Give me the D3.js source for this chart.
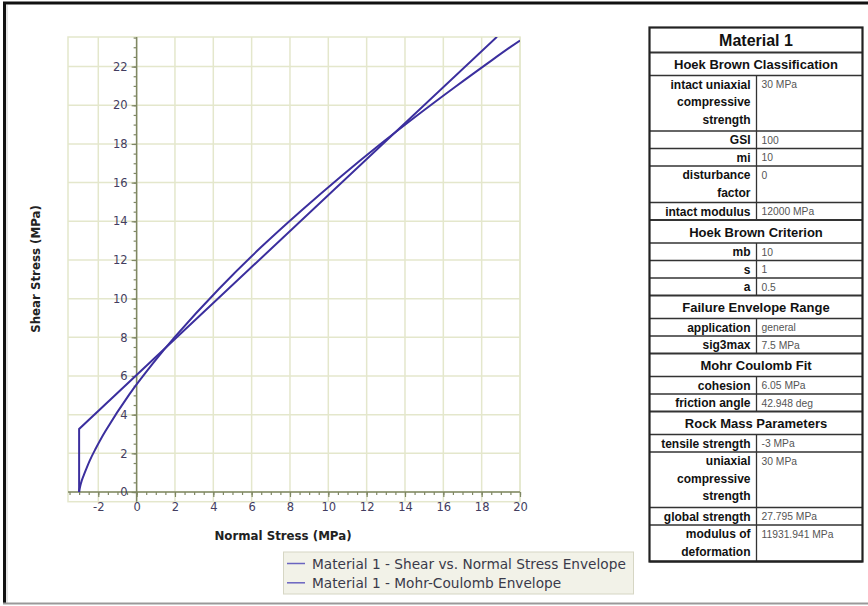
<!DOCTYPE html>
<html><head><meta charset="utf-8">
<script src="https://cdn.jsdelivr.net/npm/d3@7"></script>
<style>
html,body{margin:0;padding:0;background:#fff;}
svg{display:block;}
</style></head>
<body>
<svg id="chart" width="868" height="606"></svg>
<script>
// ---------- DATA ----------
const xTicks = [-2, 0, 2, 4, 6, 8, 10, 12, 14, 16, 18, 20];
const yTicks = [0, 2, 4, 6, 8, 10, 12, 14, 16, 18, 20, 22];
const xTitle = "Normal Stress (MPa)";
const yTitle = "Shear Stress (MPa)";
const seriesNames = ["Material 1 - Shear vs. Normal Stress Envelope", "Material 1 - Mohr-Coulomb Envelope"];
// Hoek-Brown envelope (normal stress, shear stress)
const hbNormal = [-3, -2.97, -2.86, -2.71, -2.44, -2.17, -1.64, -0.38, 0.84, 2.02, 4.29, 6.47, 8.60, 10.66, 12.69, 14.68, 16.63, 18.56, 19.51, 20.0];
const hbShear  = [0, 0.18, 0.60, 0.99, 1.64, 2.18, 3.13, 5.05, 6.64, 8.05, 10.50, 12.64, 14.56, 16.32, 17.97, 19.51, 20.96, 22.35, 23.02, 23.35];
// Mohr-Coulomb envelope with tension cut-off
const mcNormal = [-3, -3, 18.8];
const mcShear  = [0, 3.26, 23.54];

// Table
const tableTitle = "Material 1";
const sectionTitles = ["Hoek Brown Classification", "Hoek Brown Criterion", "Failure Envelope Range", "Mohr Coulomb Fit", "Rock Mass Parameters"];
const sec1Labels = [["intact uniaxial", "compressive", "strength"], ["GSI"], ["mi"], ["disturbance", "factor"], ["intact modulus"]];
const sec1Values = ["30 MPa", "100", "10", "0", "12000 MPa"];
const sec2Labels = [["mb"], ["s"], ["a"]];
const sec2Values = ["10", "1", "0.5"];
const sec3Labels = [["application"], ["sig3max"]];
const sec3Values = ["general", "7.5 MPa"];
const sec4Labels = [["cohesion"], ["friction angle"]];
const sec4Values = ["6.05 MPa", "42.948 deg"];
const sec5Labels = [["tensile strength"], ["uniaxial", "compressive", "strength"], ["global strength"], ["modulus of", "deformation"]];
const sec5Values = ["-3 MPa", "30 MPa", "27.795 MPa", "11931.941 MPa"];

// ---------- DRAW ----------
const svg = d3.select("#chart");
const curveColor = "#3b2f9e";
const gridColor = "#e4e7cc";
const axisColor = "#7f8763";
const tickTextColor = "#433d60";

// frame
svg.append("line").attr("x1", 3).attr("x2", 868).attr("y1", 3).attr("y2", 3).attr("stroke", "#111").attr("stroke-width", 3);
svg.append("line").attr("x1", 4.5).attr("x2", 4.5).attr("y1", 2).attr("y2", 604).attr("stroke", "#111").attr("stroke-width", 3);
svg.append("line").attr("x1", 7).attr("x2", 7).attr("y1", 5).attr("y2", 603).attr("stroke", "#ddd").attr("stroke-width", 1.5);
svg.append("line").attr("x1", 3).attr("x2", 868).attr("y1", 603.5).attr("y2", 603.5).attr("stroke", "#999").attr("stroke-width", 2);

const plot = {left: 68, right: 520, top: 37, bottom: 501.7};
const x = d3.scaleLinear().domain([-3.58, 20]).range([plot.left, plot.right]);
const y = d3.scaleLinear().domain([-0.5, 23.53]).range([plot.bottom, plot.top]);

// grid
const g = svg.append("g");
g.append("g").selectAll("line").data(xTicks).join("line")
  .attr("x1", d => x(d)).attr("x2", d => x(d)).attr("y1", plot.top).attr("y2", plot.bottom)
  .attr("stroke", gridColor).attr("stroke-width", 1.5);
g.append("g").selectAll("line").data(yTicks).join("line")
  .attr("x1", plot.left).attr("x2", plot.right).attr("y1", d => y(d)).attr("y2", d => y(d))
  .attr("stroke", gridColor).attr("stroke-width", 1.5);
g.append("rect").attr("x", plot.left).attr("y", plot.top).attr("width", plot.right - plot.left).attr("height", plot.bottom - plot.top)
  .attr("fill", "none").attr("stroke", gridColor).attr("stroke-width", 1.5);

// minor ticks
const xMinor = d3.range(-3.5, 20.01, 0.5);
const yMinor = d3.range(0, 23.51, 0.5);
const fmt = d => String(d);

// axes through origin
const xAxisG = svg.append("g").attr("transform", `translate(0,${y(0)})`);
xAxisG.call(d3.axisBottom(x).tickValues(xMinor).tickSize(3).tickFormat(""));
xAxisG.append("g").call(d3.axisBottom(x).tickValues(xTicks).tickSize(5).tickPadding(6).tickFormat(fmt));
xAxisG.selectAll(".domain").remove();
xAxisG.append("line").attr("x1", plot.left).attr("x2", plot.right).attr("stroke", axisColor).attr("stroke-width", 1.5);

const yAxisG = svg.append("g").attr("transform", `translate(${x(0)},0)`);
yAxisG.call(d3.axisLeft(y).tickValues(yMinor).tickSize(3).tickFormat(""));
yAxisG.append("g").call(d3.axisLeft(y).tickValues(yTicks).tickSize(5).tickPadding(4).tickFormat(fmt));
yAxisG.selectAll(".domain").remove();
yAxisG.append("line").attr("y1", plot.top).attr("y2", plot.bottom).attr("stroke", axisColor).attr("stroke-width", 1.5);

svg.selectAll(".tick line").attr("stroke", axisColor).attr("stroke-width", 1.2);
svg.selectAll(".tick text").attr("fill", tickTextColor).attr("font-family", "DejaVu Sans, Verdana, sans-serif").attr("font-size", 11.5);

// axis titles
svg.append("text").attr("x", 283).attr("y", 540).attr("text-anchor", "middle")
  .attr("font-family", "DejaVu Sans, Verdana, sans-serif").attr("font-weight", "bold").attr("font-size", 11.8).attr("fill", "#222")
  .text(xTitle);
svg.append("text").attr("transform", "translate(40,269) rotate(-90)").attr("text-anchor", "middle")
  .attr("font-family", "DejaVu Sans, Verdana, sans-serif").attr("font-weight", "bold").attr("font-size", 11.8).attr("fill", "#222")
  .text(yTitle);

// curves
svg.append("clipPath").attr("id", "clip").append("rect")
  .attr("x", plot.left).attr("y", plot.top).attr("width", plot.right - plot.left).attr("height", plot.bottom - plot.top);
const hbData = hbNormal.map((d, i) => [d, hbShear[i]]);
const mcData = mcNormal.map((d, i) => [d, mcShear[i]]);
const lineCurve = d3.line().x(d => x(d[0])).y(d => y(d[1])).curve(d3.curveCatmullRom.alpha(0.5));
const lineStraight = d3.line().x(d => x(d[0])).y(d => y(d[1]));
const cg = svg.append("g").attr("clip-path", "url(#clip)");
cg.append("path").attr("d", lineCurve(hbData)).attr("fill", "none").attr("stroke", curveColor).attr("stroke-width", 2);
cg.append("path").attr("d", lineStraight(mcData)).attr("fill", "none").attr("stroke", curveColor).attr("stroke-width", 2);

// legend
const lg = svg.append("g");
lg.append("rect").attr("x", 283.5).attr("y", 552).attr("width", 350).attr("height", 42)
  .attr("fill", "#f2f2e8").attr("stroke", "#d6d6c4").attr("stroke-width", 1);
seriesNames.forEach((name, i) => {
  const yy = 563.5 + i * 19.3;
  lg.append("line").attr("x1", 287).attr("x2", 305).attr("y1", yy).attr("y2", yy).attr("stroke", "#6a64c0").attr("stroke-width", 1.5);
  lg.append("text").attr("x", 312).attr("y", yy + 5).attr("font-family", "DejaVu Sans, Verdana, sans-serif")
    .attr("font-size", 13.7).attr("fill", "#3a3a4a").text(name);
});

// table
const sections = [
  {title: sectionTitles[0], labels: sec1Labels, values: sec1Values},
  {title: sectionTitles[1], labels: sec2Labels, values: sec2Values},
  {title: sectionTitles[2], labels: sec3Labels, values: sec3Values},
  {title: sectionTitles[3], labels: sec4Labels, values: sec4Values},
  {title: sectionTitles[4], labels: sec5Labels, values: sec5Values}
];
const T = {left: 649.5, right: 862.5, top: 27.5, divider: 756.5};
const tg = svg.append("g");
const boldFont = "Liberation Sans, Arial, sans-serif";
let cy = T.top;
const hLines = [];
const vSegs = [];
// title
tg.append("text").attr("x", (T.left + T.right) / 2).attr("y", cy + 18.5).attr("text-anchor", "middle")
  .attr("font-family", boldFont).attr("font-weight", "bold").attr("font-size", 16).attr("fill", "#111").text(tableTitle);
cy += 25;
hLines.push({y: cy, w: 2});
sections.forEach(sec => {
  tg.append("text").attr("x", (T.left + T.right) / 2).attr("y", cy + 16.5).attr("text-anchor", "middle")
    .attr("font-family", boldFont).attr("font-weight", "bold").attr("font-size", 13).attr("fill", "#111").text(sec.title);
  cy += 23;
  hLines.push({y: cy, w: 1.6});
  sec.labels.forEach((lines, i) => {
    const h = 17.5 + (lines.length - 1) * 19;
    lines.forEach((ln, j) => {
      tg.append("text").attr("x", T.divider - 6).attr("y", cy + 13 + j * 17.5).attr("text-anchor", "end")
        .attr("font-family", boldFont).attr("font-weight", "bold").attr("font-size", 12).attr("fill", "#111").text(ln);
    });
    tg.append("text").attr("x", T.divider + 5).attr("y", cy + 12.5)
      .attr("font-family", boldFont).attr("font-size", 10.3).attr("fill", "#555").text(sec.values[i]);
    vSegs.push({y1: cy, y2: cy + h});
    cy += h;
    hLines.push({y: cy, w: i === sec.labels.length - 1 ? 2 : 1.3});
  });
});
tg.selectAll("line.h").data(hLines).join("line").attr("class", "h")
  .attr("x1", T.left).attr("x2", T.right).attr("y1", d => d.y).attr("y2", d => d.y)
  .attr("stroke", "#333").attr("stroke-width", d => d.w);
tg.selectAll("line.v").data(vSegs).join("line").attr("class", "v")
  .attr("x1", T.divider).attr("x2", T.divider).attr("y1", d => d.y1).attr("y2", d => d.y2)
  .attr("stroke", "#333").attr("stroke-width", 1.3);
tg.append("rect").attr("x", T.left).attr("y", T.top).attr("width", T.right - T.left).attr("height", cy - T.top)
  .attr("fill", "none").attr("stroke", "#222").attr("stroke-width", 2.2);
</script>
</body></html>
